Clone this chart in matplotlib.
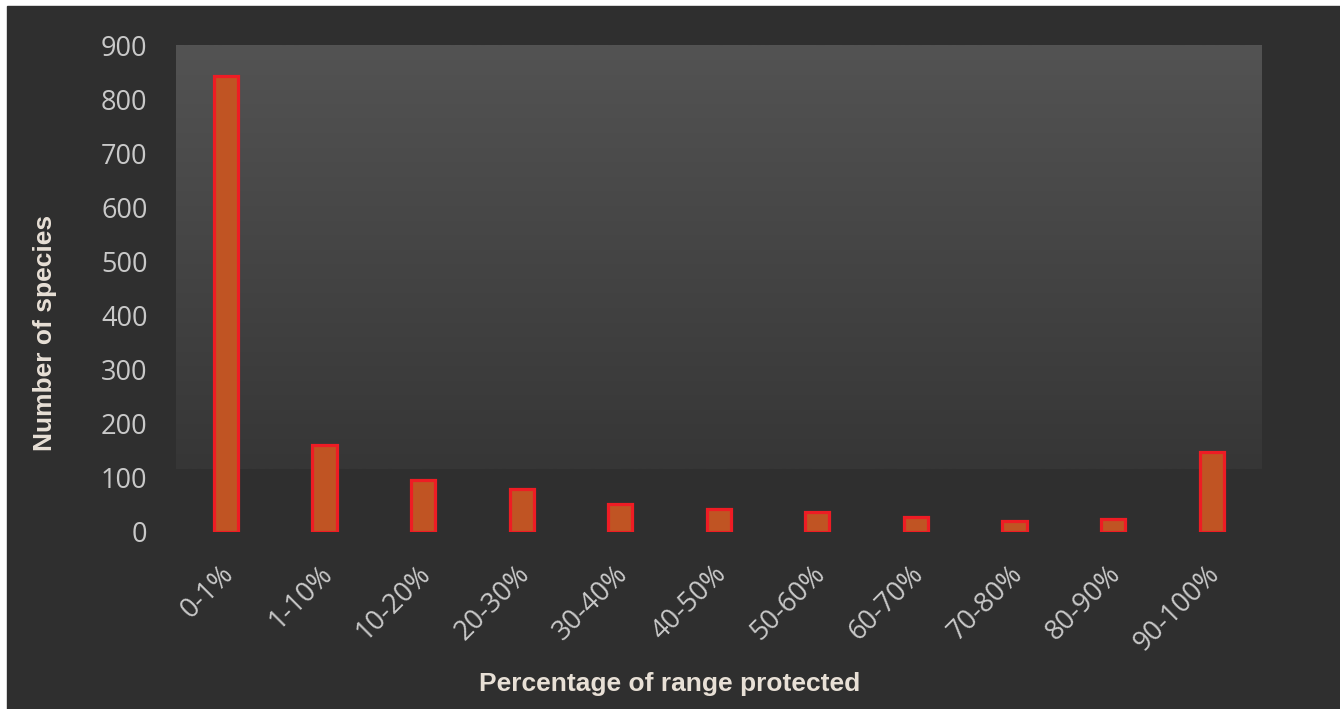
import matplotlib
matplotlib.use("Agg")
import matplotlib.pyplot as plt
import matplotlib.transforms as mtransforms
import numpy as np
from matplotlib.patches import Rectangle
from matplotlib.colors import LinearSegmentedColormap

categories = ["0-1%", "1-10%", "10-20%", "20-30%", "30-40%", "40-50%",
              "50-60%", "60-70%", "70-80%", "80-90%", "90-100%"]
species = [844, 162, 97, 79, 52, 43, 37, 28, 21, 24, 149]
yticks = [0, 100, 200, 300, 400, 500, 600, 700, 800, 900]

W, H = 1340, 709
fig = plt.figure(figsize=(W / 100, H / 100), dpi=100, facecolor="white")

# dark background (white margin at top/left as in reference)
fig.patches.append(Rectangle((7 / W, 0), 1 - 7 / W, 1 - 6 / H,
                             transform=fig.transFigure, color="#2f2f2f", zorder=0))

def fx(px):
    return px / W

def fy(py):
    return 1 - py / H

# gradient panel
bg = fig.add_axes([fx(176), fy(469), fx(1262) - fx(176), fy(45) - fy(469)], zorder=1)
grad = np.linspace(0, 1, 256).reshape(-1, 1)
cmap = LinearSegmentedColormap.from_list("g", ["#535353", "#363636"])
bg.imshow(grad, aspect="auto", cmap=cmap, extent=[0, 1, 0, 1], origin="upper")
bg.axis("off")

ax = fig.add_axes([fx(176.7), fy(532), fx(1261) - fx(176.7), fy(46) - fy(532)], zorder=2)
ax.patch.set_alpha(0)
x = np.arange(len(categories))
ax.bar(x, species, width=0.245, color="#c05423", edgecolor="#ee1c24", linewidth=2.3)
ax.set_xlim(-0.5, len(categories) - 0.5)
ax.set_ylim(0, 900)
ax.set_yticks(yticks)
ax.set_yticklabels([str(t) for t in yticks], fontfamily="Open Sans", fontsize=19.5, color="#c9c9c9")
ax.set_xticks(x)
ax.set_xticklabels(categories, rotation=45, ha="right", va="top", rotation_mode="anchor",
                   fontfamily="Open Sans", fontsize=19.5, color="#c9c9c9")
ax.tick_params(axis="both", length=0)
ax.tick_params(axis="y", pad=21)
ax.tick_params(axis="x", pad=20)
offset = mtransforms.ScaledTranslation(-6 / 100, 0, fig.dpi_scale_trans)
for lbl in ax.get_xticklabels():
    lbl.set_transform(lbl.get_transform() + offset)
for s in ax.spines.values():
    s.set_visible(False)

fig.text(fx(45), fy(333), "Number of species", rotation=90, ha="center", va="center",
         fontfamily="Liberation Sans", fontweight="bold", fontsize=19, color="#e8e0d6")
fig.text(fx(670), fy(684), "Percentage of range protected", ha="center", va="center",
         fontfamily="Liberation Sans", fontweight="bold", fontsize=19, color="#e8e0d6")

fig.savefig("out.png", dpi=100, facecolor=fig.get_facecolor())
